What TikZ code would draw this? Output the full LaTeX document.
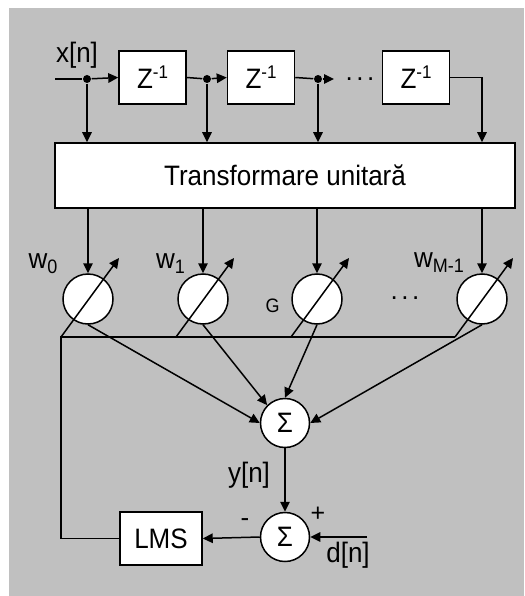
\documentclass[tikz,border=0pt]{standalone}
\usepackage{fontspec}
\setmainfont{Liberation Sans}
\usetikzlibrary{arrows.meta}
\definecolor{bggray}{RGB}{192,192,192}
\newcommand{\fsz}[1]{\fontsize{#1}{#1}\selectfont}
\newcommand{\tall}[1]{\scalebox{1}[1.08]{#1}}
\newcommand{\threedots}{.\kern3.5pt.\kern3.5pt.}
\begin{document}
\begin{tikzpicture}[x=1pt,y=-1pt, line width=1.5pt,
  >={Triangle[length=10pt,width=9.5pt]},
  blk/.style={draw, fill=white, inner sep=0pt, font=\fsz{26}},
  wt/.style={draw, fill=white, circle, minimum size=50pt, inner sep=0pt},
  sm/.style={draw, fill=white, circle, minimum size=49pt, inner sep=0pt, font=\fsz{26}},
  lbl/.style={font=\fsz{26}, inner sep=0pt, anchor=base},
  dotnode/.style={circle, fill=black, minimum size=8pt, inner sep=0pt}
]
\useasboundingbox (0,0) rectangle (524,596);
\fill[bggray] (9,8) rectangle (524,596);

% delay line
\node[blk, minimum width=67pt, minimum height=53pt] (z1) at (152.5,77.5) {\tall{Z\raisebox{9pt}{\fsz{17}-1}}};
\node[blk, minimum width=67pt, minimum height=53pt] (z2) at (261,77.5) {\tall{Z\raisebox{9pt}{\fsz{17}-1}}};
\node[blk, minimum width=67pt, minimum height=53pt] (z3) at (416,77.5) {\tall{Z\raisebox{9pt}{\fsz{17}-1}}};
\node[blk, minimum width=460pt, minimum height=65pt] (T) at (285,175.5) {\tall{Transformare unitară}};

\node[dotnode] (d1) at (87,79) {};
\node[dotnode] (d2) at (207,79) {};
\node[dotnode] (d3) at (318,79) {};
\coordinate (in) at (55,79);
\coordinate (d3e) at (334,79);
\node[lbl] (dots1) at (360,81) {\threedots};
\node[lbl] (xn) at (77,63) {\tall{x[n]}};

% weights
\node[wt] (c1) at (88,299) {};
\node[wt] (c2) at (203,299) {};
\node[wt] (c3) at (317,299) {};
\node[wt] (c4) at (482,299) {};

% summers and LMS
\node[sm] (s1) at (285,423) {\tall{Σ}};
\node[sm] (s2) at (285,537) {\tall{Σ}};
\node[blk, minimum width=82pt, minimum height=53pt] (lms) at (161,538.5) {\tall{LMS}};

% labels
\node[lbl] (w0) at (43,268) {\tall{w\raisebox{-5pt}{\fsz{18}0}}};
\node[lbl] (w1) at (170.5,268) {\tall{w\raisebox{-5pt}{\fsz{18}1}}};
\node[lbl] (wm) at (439,267) {\tall{w\raisebox{-5pt}{\fsz{18}M-1}}};
\node[lbl, font=\fsz{18}] (G) at (272.5,312) {\tall{G}};
\node[lbl] (dots2) at (405,299) {\threedots};
\node[lbl] (yn) at (249,482) {\tall{y[n]}};
\node[lbl] (dnl) at (348,562) {\tall{d[n]}};
\node[inner sep=0pt, font=\fsz{26}] (minus) at (245,523) {-};
\node[inner sep=0pt, font=\fsz{25}] (plus) at (318,514) {+};

% delay line connections
\draw (in) -- (d1);
\draw[->] (d1) -- (z1.west);
\draw (z1.east) -- (d2);
\draw[->] (d2) -- (z2.west);
\draw (z2.east) -- (d3);
\draw[->] (d3) -- (d3e);
\draw[->] (d1) -- (d1 |- T.north);
\draw[->] (d2) -- (d2 |- T.north);
\draw[->] (d3) -- (d3 |- T.north);
\draw[->] (z3.east) -| (T.north -| c4);

% transform to weights
\draw[->] (T.south -| c1) -- (c1.north);
\draw[->] (T.south -| c2) -- (c2.north);
\draw[->] (T.south -| c3) -- (c3.north);
\draw[->] (T.south -| c4) -- (c4.north);

% adaptation arrows
\coordinate (h1) at (61,337);
\coordinate (h2) at (176,337);
\coordinate (h3) at (291,337);
\coordinate (h4) at (455,337);
\coordinate (t1) at (119,258);
\coordinate (t2) at (234,258);
\coordinate (t3) at (349,258);
\coordinate (t4) at (513,258);
\draw[->] (h1) -- (t1);
\draw[->] (h2) -- (t2);
\draw[->] (h3) -- (t3);
\draw[->] (h4) -- (t4);
\draw (lms.west) -| (h1) -- (h4);

% weights to sum
\draw[->] (c1.south) -- (s1.west);
\draw[->] (c2.south) -- (s1.135);
\draw[->] (c3.south) -- (s1.north);
\draw[->] (c4.south) -- (s1.east);

% output and error
\draw[->] (s1.south) -- (s2.north);
\draw[->] (s2.west) -- (lms.east);
\coordinate (dn) at (367,537);
\draw[->] (dn) -- (s2.east);
\end{tikzpicture}
\end{document}
